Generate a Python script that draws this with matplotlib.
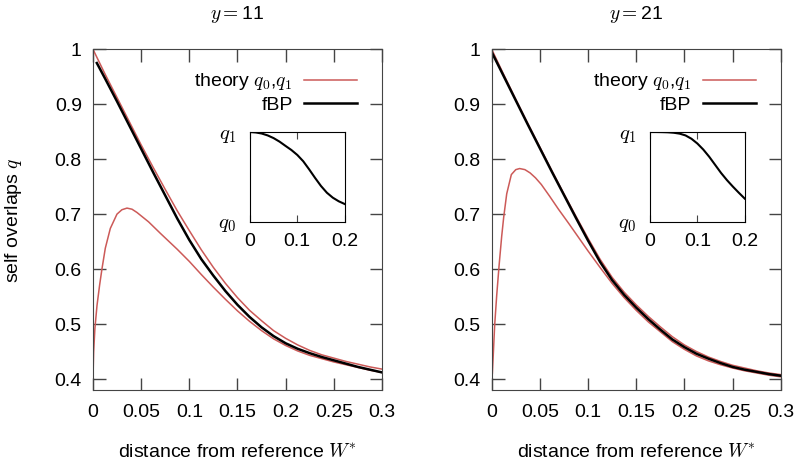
import numpy as np
import matplotlib
matplotlib.use('Agg')
import matplotlib.pyplot as plt

plt.rcParams['font.family'] = ['Liberation Sans', 'DejaVu Sans']
plt.rcParams['mathtext.fontset'] = 'cm'

# common grid for the upper curves
xg = [0, 0.0125, 0.025, 0.0375, 0.05, 0.0625, 0.075, 0.0875, 0.1, 0.1125, 0.125, 0.1375, 0.15,
      0.1625, 0.175, 0.1875, 0.2, 0.2125, 0.225, 0.2375, 0.25, 0.2625, 0.275, 0.2875, 0.3]

# y = 11 panel
x0_11 = [0, 0.0007, 0.002, 0.0042, 0.0069, 0.0093, 0.0128, 0.018, 0.0249, 0.03, 0.0353, 0.0405,
         0.0457, 0.0577, 0.07, 0.0875, 0.1, 0.1125, 0.125, 0.1375, 0.15, 0.1625, 0.175, 0.1875, 0.2,
         0.2125, 0.225, 0.2375, 0.25, 0.2625, 0.275, 0.2875, 0.3]
q0_11 = [0.40, 0.449, 0.492, 0.534, 0.571, 0.60, 0.638, 0.674, 0.70, 0.708, 0.711, 0.709,
         0.703, 0.686, 0.665, 0.636, 0.614, 0.59, 0.567, 0.545, 0.524, 0.505, 0.488, 0.473, 0.461,
         0.451, 0.443, 0.437, 0.431, 0.426, 0.421, 0.416, 0.412]
q1_11 = [1.0, 0.955, 0.912, 0.869, 0.826, 0.785, 0.745, 0.706, 0.67, 0.635, 0.603, 0.574, 0.548,
         0.525, 0.506, 0.488, 0.474, 0.462, 0.452, 0.444, 0.438, 0.432, 0.427, 0.422, 0.418]
xf_11 = [0.004] + xg[1:]
fbp_11 = [0.975, 0.947, 0.905, 0.862, 0.819, 0.776, 0.734, 0.692, 0.653, 0.618, 0.588, 0.56, 0.535,
          0.513, 0.494, 0.478, 0.465, 0.455, 0.447, 0.44, 0.434, 0.428, 0.422, 0.417, 0.412]

# y = 21 panel
x0_21 = [0, 0.0007, 0.0018, 0.0031, 0.0052, 0.0077, 0.0104, 0.0125, 0.0156, 0.0204, 0.025, 0.029,
         0.0345, 0.0399, 0.0455, 0.0515, 0.06, 0.0693, 0.08, 0.09, 0.1, 0.1125, 0.125, 0.1375,
         0.15, 0.1625, 0.175, 0.1875, 0.2, 0.2125, 0.225, 0.2375, 0.25, 0.2625, 0.275, 0.2875, 0.3]
q0_21 = [0.40, 0.41, 0.45, 0.498, 0.552, 0.607, 0.66, 0.695, 0.737, 0.772, 0.781, 0.783,
         0.781, 0.775, 0.766, 0.754, 0.733, 0.709, 0.683, 0.658, 0.633, 0.603, 0.574, 0.548,
         0.525, 0.504, 0.486, 0.468, 0.454, 0.442, 0.433, 0.426, 0.42, 0.415, 0.411, 0.407, 0.404]
q1_21 = [1.0, 0.954, 0.909, 0.865, 0.822, 0.779, 0.737, 0.696, 0.656, 0.618, 0.585, 0.558, 0.535,
         0.514, 0.495, 0.477, 0.462, 0.45, 0.44, 0.432, 0.425, 0.42, 0.415, 0.411, 0.408]
xf_21 = xg
fbp_21 = [0.995, 0.951, 0.907, 0.863, 0.82, 0.777, 0.735, 0.693, 0.652, 0.613, 0.58, 0.553, 0.53,
          0.509, 0.49, 0.472, 0.458, 0.446, 0.437, 0.429, 0.422, 0.417, 0.413, 0.409, 0.406]

# insets (normalised between q0 and q1)
xin = [0, 0.0125, 0.025, 0.0375, 0.05, 0.0625, 0.075, 0.0875, 0.1, 0.1125, 0.125, 0.1375, 0.15,
       0.1625, 0.175, 0.1875, 0.2]
in_11 = [1.0, 0.995, 0.983, 0.962, 0.932, 0.893, 0.846, 0.80, 0.745, 0.675, 0.585, 0.49, 0.40,
         0.325, 0.27, 0.23, 0.20]
in_21 = [1.0, 1.0, 0.999, 0.997, 0.992, 0.982, 0.962, 0.925, 0.872, 0.805, 0.725, 0.635, 0.545,
         0.465, 0.393, 0.325, 0.26]

red = '#cc5a58'
spine = '#444444'

fig = plt.figure(figsize=(7.96, 4.65), dpi=100)

panels = [
    (0.1168, 11, x0_11, q0_11, q1_11, xf_11, fbp_11, in_11, 0.314),
    (0.6177, 21, x0_21, q0_21, q1_21, xf_21, fbp_21, in_21, 0.8166),
]

for left, yv, xq0, q0, q1, xf, fbp, inset, ileft in panels:
    ax = fig.add_axes([left, 0.1613, 0.3631, 0.7327])
    ax.plot(xq0, q0, color=red, lw=1.1, label=r'theory $q_0$,$q_1$')
    ax.plot(xg, q1, color=red, lw=1.1)
    ax.plot(xf, fbp, color='black', lw=1.8, label='fBP')
    ax.set_xlim(0, 0.3)
    ax.set_ylim(0.38, 1)
    ax.set_xticks([0, 0.05, 0.1, 0.15, 0.2, 0.25, 0.3])
    ax.set_xticklabels(['0', '0.05', '0.1', '0.15', '0.2', '0.25', '0.3'])
    ax.set_yticks([0.4, 0.5, 0.6, 0.7, 0.8, 0.9, 1.0])
    ax.set_yticklabels(['0.4', '0.5', '0.6', '0.7', '0.8', '0.9', '1'])
    ax.tick_params(direction='in', length=9, width=1, color=spine, labelsize=14,
                   top=True, right=True)
    ax.tick_params(axis='x', pad=10)
    ax.tick_params(axis='y', pad=8)
    for s in ax.spines.values():
        s.set_color(spine)
    ax.set_title(r'$y=$' + str(yv), fontsize=14, pad=22)
    ax.set_xlabel(r'distance from reference $W^{*}$', fontsize=14, labelpad=16)
    if yv == 11:
        ax.set_ylabel(r'self overlaps $q$', fontsize=14, labelpad=22)
    ax.legend(loc='upper right', frameon=False, fontsize=14, markerfirst=False,
              handlelength=2.7, borderaxespad=0.3, labelspacing=0.2, handletextpad=0.6,
              bbox_to_anchor=(0.96, 0.975))

    ins = fig.add_axes([ileft, 0.5226, 0.119, 0.1935])
    ins.plot(xin, inset, color='black', lw=1.5)
    ins.set_xlim(0, 0.2)
    ins.set_ylim(0, 1)
    ins.set_xticks([0, 0.1, 0.2])
    ins.set_xticklabels(['0', '0.1', '0.2'])
    ins.set_yticks([0, 1])
    ins.set_yticklabels([r'$q_0$', r'$q_1$'])
    ins.tick_params(axis='x', direction='in', length=5, color=spine, labelsize=14,
                    top=True, pad=8)
    ins.tick_params(axis='y', length=0, labelsize=15, pad=10)
    for s in ins.spines.values():
        s.set_color('black')

fig.savefig('out.png', dpi=100)
